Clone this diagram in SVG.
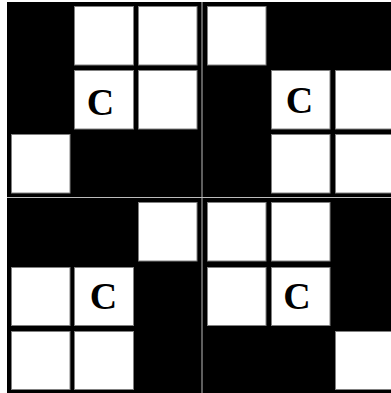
<svg xmlns="http://www.w3.org/2000/svg" width="391" height="393" viewBox="0 0 391 393">
<style>
.bg{fill:#000}
.w{fill:#fff;stroke:#808080;stroke-width:1}
.sep{stroke:#bcbcbc;stroke-width:1;fill:none}
.c{font-family:"Liberation Serif","Times New Roman",serif;font-weight:bold;font-size:38px;fill:#000;text-anchor:middle}
</style>
<rect x="0" y="0" width="391" height="393" fill="#fff"/>
<g id="q1">
<rect class="bg" x="7" y="2" width="195" height="196"/>
<rect class="w" x="74.5" y="6.5" width="59" height="58.5"/>
<rect class="w" x="138.5" y="6.5" width="58.5" height="58.5"/>
<rect class="w" x="74.5" y="70.5" width="59" height="58.5"/>
<rect class="w" x="138.5" y="70.5" width="58.5" height="58.5"/>
<rect class="w" x="11.5" y="134.5" width="58.5" height="58.5"/>
<text class="c" x="100.5" y="115">C</text>
</g>
<g id="q2">
<rect class="bg" x="202" y="2" width="189" height="196"/>
<rect class="w" x="207.5" y="6.5" width="58.5" height="58.5"/>
<rect class="w" x="271.5" y="70.5" width="58.5" height="58.5"/>
<rect class="w" x="335.5" y="70.5" width="58.5" height="58.5"/>
<rect class="w" x="271.5" y="134.5" width="58.5" height="58.5"/>
<rect class="w" x="335.5" y="134.5" width="58.5" height="58.5"/>
<text class="c" x="299.5" y="112.5">C</text>
</g>
<g id="q3">
<rect class="bg" x="7" y="197" width="195" height="196"/>
<rect class="w" x="138.5" y="202.5" width="58.5" height="58.5"/>
<rect class="w" x="11.5" y="267.5" width="58.5" height="58"/>
<rect class="w" x="74.5" y="267.5" width="59" height="58"/>
<rect class="w" x="11.5" y="331.5" width="58.5" height="58"/>
<rect class="w" x="74.5" y="331.5" width="59" height="58"/>
<text class="c" x="103.5" y="309">C</text>
</g>
<g id="q4">
<rect class="bg" x="202" y="197" width="189" height="196"/>
<rect class="w" x="207.5" y="202.5" width="58.5" height="58.5"/>
<rect class="w" x="271.5" y="202.5" width="58.5" height="58.5"/>
<rect class="w" x="207.5" y="267.5" width="58.5" height="58"/>
<rect class="w" x="271.5" y="267.5" width="58.5" height="58"/>
<rect class="w" x="335.5" y="331.5" width="58.5" height="58"/>
<text class="c" x="297" y="309">C</text>
</g>
<g id="separators">
<line class="sep" x1="202" y1="2" x2="202" y2="393"/>
<line class="sep" x1="7" y1="197.5" x2="391" y2="197.5"/>
</g>
</svg>
